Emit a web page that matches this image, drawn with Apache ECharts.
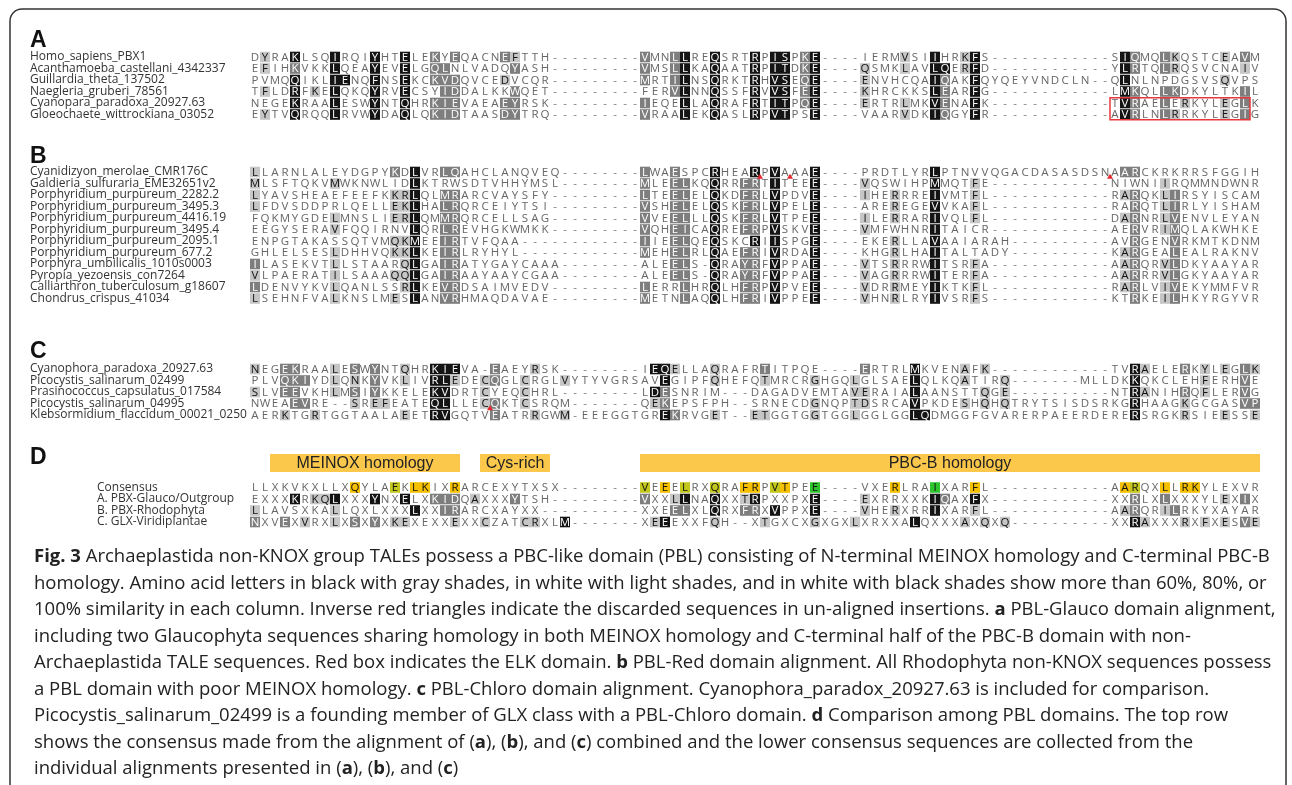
<!DOCTYPE html>
<html>
<head>
<meta charset="utf-8">
<script src="https://cdn.jsdelivr.net/npm/echarts@6/dist/echarts.min.js"></script>
<style>
  html, body { margin: 0; padding: 0; background: #fff; }
  #chart { width: 1292px; height: 785px; }
</style>
</head>
<body>
<div id="chart"></div>
<script>
// ---- data -------------------------------------------------------------
const namesA = ['Homo_sapiens_PBX1', 'Acanthamoeba_castellani_4342337', 'Guillardia_theta_137502',
  'Naegleria_gruberi_78561', 'Cyanopara_paradoxa_20927.63', 'Gloeochaete_wittrockiana_03052'];
const seqA = [
  'DYRAKLSQIRQIYHTELEKYEQACNEFTTH---------VMNLLREQSRTRPISPKE----IERMVSIIHRKFS------------SIQMQLKQSTCEAVM',
  'EFIHKVKKLQEAYEVELGQLNLVADQYASH---------VMSLLKAQAATRPITDKE----QSMKLAVLQERFD------------YLRTQLRQSVCNAIV',
  'PVMQQIKLIENQFNSEKCKVDQVCEDVCQR---------MRTILNSQRKTRHVSEQE----ENVHCQAIQAKFQYQEYVNDCLN--QLNLNPDGSVSQVPS',
  'TFLDRFKELQKQYRVECSYIDDALKKWQET---------FERVLNNQSSFRVVSFEE----KHRCKKSLEARFG------------LMKQLLKDKYLTKIL',
  'NEGEKRAALESWYNTQHRKIEVAEAEYRSK---------IEQELLAQRAFRTITPQE----ERTRLMKVENAFK------------TVRAELERKYLEGLK',
  'EYTVQRQQLRVWYDAQLQKIDTAASDYTRQ---------VRAALEKQASLRPVTPSE----VAARVDKIQGYFR------------AVRLNLRRKYLEGIG'
];
// shading: column + level (a = 60%, b = 80%, c = 100%)
const shadeA = [
  '2a 5c 9c 13c 16c 19b 21b 26b 27a 40b 43b 44c 47c 51c 53c 54c 56b 57c 66a 69c 72a 73c 88c 89b 92b 93a 98a 100b',
  '2a 5b 9c 13c 16c 19b 20b 27b 40b 43b 44c 47c 51c 53c 54c 56b 57c 62a 66a 69c 70c 72a 73c 88c 89b 92b 93a 100a',
  '5c 9c 10c 13c 16c 19b 20b 21b 26a 40b 43b 44c 47c 51c 53c 54c 56b 57c 62a 69c 70b 73c 88c 98a',
  '2a 5c 7a 9c 13c 16c 20b 21b 27b 43b 44c 47c 51c 53c 54c 56b 57c 62a 69c 70b 73c 88c 89b 92b 93b 100b',
  '5c 9c 13c 16c 19b 20b 21b 26b 27b 40b 44c 47c 51c 53c 54c 56b 57c 62a 66a 69c 70b 73c 88c 89b 92b 94a 98a 100b',
  '2a 5c 9c 13c 16c 19b 20b 21b 26b 27b 40b 44c 47c 51c 53c 54c 57c 66a 69c 70b 73c 88c 89b 92b 93a 98a 100b'
];

const namesB = ['Cyanidizyon_merolae_CMR176C', 'Galdieria_sulfuraria_EME32651v2', 'Porphyridium_purpureum_2282.2',
  'Porphyridium_purpureum_3495.3', 'Porphyridium_purpureum_4416.19', 'Porphyridium_purpureum_3495.4',
  'Porphyridium_purpureum_2095.1', 'Porphyridium_purpureum_677.2', 'Porphyra_umbilicalis_1010s0003',
  'Pyropia_yezoensis_con7264', 'Calliarthron_tuberculosum_g18607', 'Chondrus_crispus_41034'];
const seqB = [
  'LLARNLALEYDGPYKDLVRLQAHCLANQVEQ--------LWAESPCRHEARPVAAAE----PRDTLYRLPTNVVQGACDASASDSNAARCKRKRRSFGGIH',
  'MLSFTQKVMWKNWLIDLKTRWSDTVHHYMSL--------MLEELKQQRRFRTITEEE----VQSWIHPMMQTFE------------NIWNIIRQMMNDWNR',
  'LYAVSHEAEFEEFKKRLQLMRARCVAYSFY---------LTEELELQKDFRLVPDVE----IHERRREIVMTFL------------RARQKLIRSYISCAM',
  'LFDVSDDPRLQELLEKLHALRQRCEIYTSI---------VSHELELQSKFRLVPELE----AREREGEVVKAFL------------RARQTLIRLYISHAM',
  'FQKMYGDELMNSLIERLQMMRQRCELLSAG---------VVEELLLQSKFRLVTPEE----ILERRARIVQLFL------------DARNRLVENVLEYAN',
  'EEGYSERAVFQQIRNVLQRLREVHGKWMKK---------VQHEICAQREFRPVSKVE----VMFWHNRITAICR------------AERVRIMQLAKWHKE',
  'ENPGTAKASSQTVMQKMEEIRTVFQAA------------IIEELQEQSKCRIISPGE----EKERLLAVAAIARAH----------AVRGENVRKMTKDNM',
  'GHLELSESLDHHVQKKLKEIRLRYHYL------------MEHELRLQAEFRIVRDAE----KHGRLHAITALTADY----------KARGEALEALRAKNV',
  'ILASEKVTLLSTAARQLGAIRATYGAYCAAA--------ALEELS-QRAYRFVPPAE----VTSRRRWITSRFA------------AARQRVLDKYAAYAR',
  'VLPAERATILSAAAQQLGAIRAAYAAYCGAA--------ALEELS-QRAYRFVPPAE----VAGRRRWITERFA------------AARRRVLGKYAAYAR',
  'LDENVYKVLQANLSSRLKEVRDSAIMVEDV---------LERRLHRQLHFRPVPVEE----VDRRMEYIKTKFL------------RARLVIVEKYMMFVR',
  'LSEHNFVALKNSLMESLANVRHMAQDAVAE---------METNLAQQLHFRIVPPEE----VHNRLRYIVSRFS------------KTRKEILHKYRGYVR'
];
const shadeB = [
  '1a 15b 17c 20b 21b 40b 43b 47c 51c 53c 57c 69c 88b 89b',
  '1a 9a 17c 40b 43b 44b 47c 50b 51b 53c 57c 62a 69c 73a 92a',
  '1a 15a 16a 17c 20b 21b 40b 43b 44b 47c 50b 51b 53c 57c 62a 65a 69c 73a 88a 89b 92a 93b',
  '1a 15a 16a 17c 20b 21b 40b 43b 44b 47c 50b 51b 53c 57c 65a 69c 73a 89b 92a 93b',
  '9a 15a 16a 17c 20b 21b 40b 43b 44b 47c 50b 51b 53c 57c 62a 65a 69c 73a 88a 89b 92a 93b',
  '9a 17c 20b 21b 40b 43b 44b 47c 50b 51b 53c 57c 62a 69c 89b 92a 93b',
  '15a 16a 17c 20b 21b 40b 43b 44b 47c 51c 53c 57c 65a 69c 89b 93b',
  '9a 15a 16a 17c 20b 21b 40b 43b 44b 47c 50b 51b 53c 57c 65a 69c 88a 89b 93b',
  '1b 9a 16a 17c 20b 21b 43b 44b 47c 50b 51b 53c 57c 62a 65a 69c 73a 88a 89b 92a 93b',
  '1a 9a 15a 16a 17c 20b 21b 43b 44b 47c 50b 51b 53c 57c 62a 65a 69c 73a 88a 89b 92a 93b',
  '1b 9a 16a 17c 20b 21b 40b 44b 47c 50b 51b 53c 57c 62a 65a 69c 73a 88a 89b 92a 93b',
  '1a 9a 15a 17c 20b 21b 40b 44b 47c 50b 51b 53c 57c 62a 65a 69c 73a 89b 92a 93b'
];

const namesC = ['Cyanophora_paradoxa_20927.63', 'Picocystis_salinarum_02499', 'Prasinococcus_capsulatus_017584',
  'Picocystis_salinarum_04995', 'Klebsormidium_flaccidum_00021_0250'];
const seqC = [
  'NEGEKRAALESWYNTQHRKIEVA-EAEYRSK--------IEQELLAQRAFRTITPQE----ERTRLMKVENAFK------------TVRAELERKYLEGLK',
  'PLVQKIYDLQNKYVKLIVRLEDECQGLCRGLVYTYVGRSAVEGIPFQHEFQTMRCRGHGQLGLSAELQLKQATIRQ-------MLLDKKQKCLEHFERHVE',
  'SLVEEVKHLMSIYKKELEKVDRTCYEQCHRL--------LDESNRIM---DAGADVEMTAVERAIALAANSTTQGE----------NTRANIHRQFLERVG',
  'NWEAEVRE--SREFEATEQLLLECQKTCSRQM-------QEKEPSFPH--SRNECDGNQPTDSRCAVPKDESHQHQTRYTSISDSRKGRHAAGKGCGASVP',
  'AERKTGRTGGTAALAEETRVGQTVEATRRGWM-EEEGGTGREKRVGET--ETGGTGGTGGLGGLGGLQDMGGFGVARERPAEERDERERSRGKRSIEESSE'
];
const shadeC = [
  '1a 4b 5b 9a 11b 13b 16a 19c 20c 21c 25b 29a 41c 42c 43a 47a 52b 62b 67c 72a 74a 89c 90a 94b 96a 98a 100b 101a',
  '4b 5b 6b 9a 11a 13b 16a 19c 20c 21a 24a 25b 28a 32a 42c 47a 52a 57a 61a 67c 72a 76a 89c 96a 100b',
  '1a 4b 5b 9a 11b 13b 19c 20c 24a 28a 41c 42b 61a 62a 67c 74a 76a 89c 90a 94b 96a 100b',
  '5b 6b 11a 13a 14a 19c 20c 24a 25b 28a 41a 42b 57a 61a 62a 67c 72a 74a 76a 89c 94a 100b 101b',
  '4a 7a 16a 19c 20c 25b 29a 32a 42c 43b 47a 51a 52a 57a 61a 67c 68c 89c 94a 98a 101a'
];

const namesD = ['Consensus', 'A. PBX-Glauco/Outgroup', 'B. PBX-Rhodophyta', 'C. GLX-Viridiplantae'];
const seqD = [
  'LLXKVKXLLXQYLAEKLKIXRARCEXYTXSX--------VEEELRXQRAFRPVTPEE----VXERLRAIXARFL------------AARQXLLRKYLEXVR',
  'EXXXKRKQLXXXYNXELXKIDQAXXXYTSH---------VXXLLNAQXXTRPXXPXE----EXRRXXKIQAXFX------------XXRLXLXXXYLEXIX',
  'LLAVSXKALLQXLXXXLXXIRARCXAYXX----------XXEELXLQRXFRXVPPXE----VHERXRRIXARFL------------AARQRILRKYXAYAR',
  'NXVEXVRXLXSXYXKEXEXXEXXCZATCRXLM-------XEEEXXFQH--XTGXCXGXGXLXRXXALQXXXAXQXQ----------XXRAXXXRXFXESVE'
];
// y = yellow, g = yellow-green, G = green (consensus highlights)
const shadeD = [
  '11y 15g 17y 18y 21y 40g 42y 44g 47g 50y 51y 53g 54y 57G 65y 69G 73y 88y 89g 92y 94y 95y',
  '5c 7a 8a 9c 13c 16c 19b 20b 21b 23a 27b 40b 43a 44c 47c 50a 51c 57c 62a 69c 70b 73c 89b 92b 98a 100b',
  '1a 9a 17c 20b 21b 43b 44b 47c 50b 51b 53c 57c 62a 65a 69c 73a 88a 89b 92a 93b',
  '1b 4b 6a 9a 11b 13b 15a 16a 21a 24a 28a 29a 32c 41a 42c 47a 52a 57a 61a 67c 72a 74a 76a 89c 90a 94a 96a 98a 100b 101a'
];

const domainNames = ['MEINOX homology', 'Cys-rich', 'PBC-B homology'];
const domainStart = [3, 24, 40];
const domainEnd = [21, 30, 101];

// discarded insertions: [column boundary, row]
const triB = [[51.5, 0], [54.5, 0], [86.5, 0]];
const triC = [[24.5, 3]];
// ELK box: [first col, last col, first row, last row]
const elkBox = [[87, 100, 4, 5]];

const captionLines = [
  '{b|Fig. 3} Archaeplastida non-KNOX group TALEs possess a PBC-like domain (PBL) consisting of N-terminal MEINOX homology and C-terminal PBC-B',
  'homology. Amino acid letters in black with gray shades, in white with light shades, and in white with black shades show more than 60%, 80%, or',
  '100% similarity in each column. Inverse red triangles indicate the discarded sequences in un-aligned insertions. {b|a} PBL-Glauco domain alignment,',
  'including two Glaucophyta sequences sharing homology in both MEINOX homology and C-terminal half of the PBC-B domain with non-',
  'Archaeplastida TALE sequences. Red box indicates the ELK domain. {b|b} PBL-Red domain alignment. All Rhodophyta non-KNOX sequences possess',
  'a PBL domain with poor MEINOX homology. {b|c} PBL-Chloro domain alignment. Cyanophora_paradox_20927.63 is included for comparison.',
  'Picocystis_salinarum_02499 is a founding member of GLX class with a PBL-Chloro domain. {b|d} Comparison among PBL domains. The top row',
  'shows the consensus made from the alignment of ({b|a}), ({b|b}), and ({b|c}) combined and the lower consensus sequences are collected from the',
  'individual alignments presented in ({b|a}), ({b|b}), and ({b|c})'
];

// ---- layout ------------------------------------------------------------
const NCOL = 101;
const PITCH = 11.5;
const panels = [
  { names: namesA, seqs: seqA, shades: shadeA, top: 51.25, margin: 220 },
  { names: namesB, seqs: seqB, shades: shadeB, top: 166.25, margin: 220 },
  { names: namesC, seqs: seqC, shades: shadeC, top: 363.25, margin: 220 },
  { names: namesD, seqs: seqD, shades: shadeD, top: 481.75, margin: 153 }
];

const SHADE = {
  a: ['#c6c6c6', '#111'],
  b: ['#7e7e7e', '#fff'],
  c: ['#141414', '#fff'],
  y: ['#f5c000', '#111'],
  g: ['#c3c61c', '#111'],
  G: ['#2ec42e', '#111']
};

function buildCells(seqs, shades) {
  const cells = [];
  seqs.forEach((s, r) => {
    const map = {};
    shades[r].split(/\s+/).filter(Boolean).forEach((t) => {
      map[parseInt(t, 10)] = t.replace(/^\d+/, '');
    });
    for (let c = 0; c < s.length; c++) {
      cells.push({ value: [c + 1, r], ch: s[c], lv: map[c + 1] || '' });
    }
  });
  return cells;
}

function cellSeries(idx, cells) {
  return {
    type: 'custom',
    xAxisIndex: idx,
    yAxisIndex: idx,
    silent: true,
    data: cells.map((d) => d.value),
    renderItem: (params, api) => {
      const d = cells[params.dataIndex];
      const p = api.coord([api.value(0), api.value(1)]);
      const w = api.size([1, 0])[0];
      const children = [];
      let fg = '#666';
      if (d.lv && d.ch !== '-') {
        children.push({
          type: 'rect',
          shape: { x: p[0] - w / 2, y: p[1] - 5.3, width: w, height: 10.6 },
          style: { fill: SHADE[d.lv][0] }
        });
        fg = SHADE[d.lv][1];
      }
      children.push({
        type: 'text',
        x: p[0],
        y: p[1] + 0.5,
        style: {
          text: d.ch,
          fill: d.ch === '-' ? '#7a7a7a' : fg,
          font: '11.5px "Open Sans"',
          textAlign: 'center',
          textVerticalAlign: 'middle'
        }
      });
      return { type: 'group', children };
    }
  };
}

const grids = [];
const xAxes = [];
const yAxes = [];
const series = [];

panels.forEach((pn, i) => {
  grids.push({ left: 250, width: NCOL * 10, top: pn.top, height: pn.names.length * PITCH });
  xAxes.push({ gridIndex: i, type: 'value', min: 0.5, max: NCOL + 0.5, show: false });
  yAxes.push({
    gridIndex: i,
    type: 'category',
    data: pn.names,
    inverse: true,
    axisLine: { show: false },
    axisTick: { show: false },
    splitLine: { show: false },
    axisLabel: {
      interval: 0,
      margin: pn.margin,
      align: 'left',
      fontSize: 12,
      fontFamily: 'Open Sans',
      color: '#333'
    }
  });
  series.push(cellSeries(i, buildCells(pn.seqs, pn.shades)));
});

// domain header grid
grids.push({ left: 250, width: NCOL * 10, top: 454, height: 18 });
xAxes.push({ gridIndex: 4, type: 'value', min: 0.5, max: NCOL + 0.5, show: false });
yAxes.push({ gridIndex: 4, type: 'value', min: 0, max: 1, show: false });
series.push({
  type: 'custom',
  xAxisIndex: 4,
  yAxisIndex: 4,
  silent: true,
  data: domainNames.map((n, i) => [domainStart[i], domainEnd[i]]),
  renderItem: (params, api) => {
    const a = api.coord([api.value(0) - 0.5, 1]);
    const b = api.coord([api.value(1) + 0.5, 0]);
    return {
      type: 'group',
      children: [
        { type: 'rect', shape: { x: a[0], y: a[1], width: b[0] - a[0], height: b[1] - a[1] }, style: { fill: '#fcc84c' } },
        {
          type: 'text', x: (a[0] + b[0]) / 2, y: (a[1] + b[1]) / 2 + 1,
          style: { text: domainNames[params.dataIndex], fill: '#222', font: '16px "Liberation Sans"', textAlign: 'center', textVerticalAlign: 'middle' }
        }
      ]
    };
  }
});

// ELK red box
series.push({
  type: 'custom',
  xAxisIndex: 0,
  yAxisIndex: 0,
  silent: true,
  data: elkBox,
  renderItem: (params, api) => {
    const h = api.size([0, 1])[1];
    const a = api.coord([api.value(0) - 0.5, api.value(2)]);
    const b = api.coord([api.value(1) + 0.5, api.value(3)]);
    return {
      type: 'rect',
      shape: { x: a[0], y: a[1] - h / 2 + 0.5, width: b[0] - a[0], height: b[1] - a[1] + h - 1 },
      style: { fill: 'none', stroke: '#e8383d', lineWidth: 1.5 }
    };
  }
});

// discarded-insertion triangles
function triSeries(idx, data) {
  return {
    type: 'custom',
    xAxisIndex: idx,
    yAxisIndex: idx,
    silent: true,
    data,
    renderItem: (params, api) => {
      const h = api.size([0, 1])[1];
      const p = api.coord([api.value(0), api.value(1)]);
      const y = p[1] + h / 2;
      return {
        type: 'polygon',
        shape: { points: [[p[0] - 3, y + 1], [p[0] + 3, y + 1], [p[0], y - 4]] },
        style: { fill: '#e5262b' }
      };
    }
  };
}
series.push(triSeries(1, triB));
series.push(triSeries(2, triC));

// ---- static text: frame, panel letters, caption -------------------------
const graphics = [
  {
    type: 'rect',
    shape: { x: 10, y: 9, width: 1276, height: 820, r: 12 },
    style: { fill: 'none', stroke: '#333', lineWidth: 1.5 },
    silent: true
  }
];
[['A', 41], ['B', 157], ['C', 352], ['D', 458]].forEach(([t, y]) => {
  graphics.push({
    type: 'text', x: 30, y,
    style: { text: t, font: 'bold 23px "Liberation Sans"', fill: '#111', textVerticalAlign: 'middle' }
  });
});
captionLines.forEach((line, i) => {
  graphics.push({
    type: 'text', x: 34, y: 557 + i * 26.5,
    style: {
      text: line,
      fontSize: 18.5,
      fontFamily: 'Open Sans',
      fill: '#222',
      textVerticalAlign: 'middle',
      rich: { b: { fontWeight: 'bold', fontSize: 18.5, fontFamily: 'Open Sans', fill: '#222' } }
    }
  });
});

const chart = echarts.init(document.getElementById('chart'));
chart.setOption({
  animation: false,
  backgroundColor: '#fff',
  grid: grids,
  xAxis: xAxes,
  yAxis: yAxes,
  series,
  graphic: graphics
});
</script>
</body>
</html>
